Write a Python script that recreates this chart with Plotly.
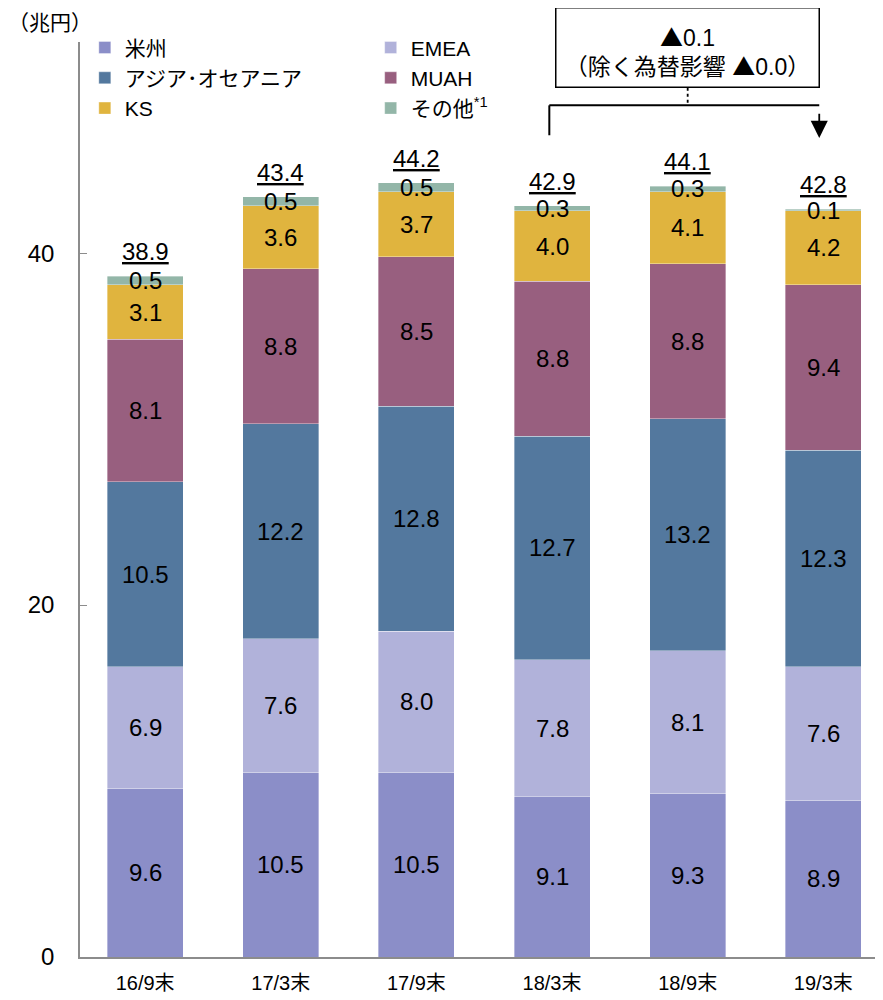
import plotly.graph_objects as go

categories = ["16/9末", "17/3末", "17/9末", "18/3末", "18/9末", "19/3末"]
series_names = ["米州", "EMEA", "アジア･オセアニア", "MUAH", "KS", "その他<sup>*1</sup>"]
americas = [9.6, 10.5, 10.5, 9.1, 9.3, 8.9]
emea = [6.9, 7.6, 8.0, 7.8, 8.1, 7.6]
asia = [10.5, 12.2, 12.8, 12.7, 13.2, 12.3]
muah = [8.1, 8.8, 8.5, 8.8, 8.8, 9.4]
ks = [3.1, 3.6, 3.7, 4.0, 4.1, 4.2]
other = [0.5, 0.5, 0.5, 0.3, 0.3, 0.1]
totals = ["38.9", "43.4", "44.2", "42.9", "44.1", "42.8"]
colors = ["#8B8EC8", "#B1B2DA", "#53789E", "#985F7F", "#E0B43E", "#93B6A8"]
legend_ids = ["legend", "legend2", "legend", "legend2", "legend", "legend2"]

FONT = "Liberation Sans, Arial, Noto Sans CJK JP, sans-serif"
series = [americas, emea, asia, muah, ks, other]
x = list(range(len(categories)))

fig = go.Figure()
annotations = []
base = [0.0] * len(categories)
for name, vals, col, lg in zip(series_names, series, colors, legend_ids):
    fig.add_trace(go.Bar(
        x=x, y=vals, name=name, legend=lg,
        marker=dict(color=col, line=dict(color="rgba(255,255,255,0.6)", width=0.6)),
        width=0.56,
    ))
    for i, v in enumerate(vals):
        annotations.append(dict(
            x=i, y=base[i] + v / 2, xref="x", yref="y", text=f"{v:.1f}",
            showarrow=False, font=dict(size=24, color="black", family=FONT),
        ))
        base[i] += v

for i, t in enumerate(totals):
    annotations.append(dict(
        x=i, y=base[i], xref="x", yref="y", text=f"<u>{t}</u>", yanchor="bottom",
        yshift=9, showarrow=False, font=dict(size=24, color="black", family=FONT),
    ))

# unit label
annotations.append(dict(
    x=0.0, y=1.0, xref="paper", yref="paper", xanchor="left", yanchor="middle",
    xshift=-74, yshift=20, text="（兆円）", showarrow=False,
    font=dict(size=21, color="black", family=FONT),
))

TRI = '<span style="font-family:Noto Sans CJK JP">▲</span>'
# change box
annotations.append(dict(
    x=4, y=49.4, xref="x", yref="y", yanchor="bottom", xanchor="center",
    text=f"{TRI}0.1<br>（除く為替影響 {TRI}0.0）", showarrow=False,
    bordercolor="black", borderwidth=1.5, borderpad=4, width=254, height=70,
    valign="bottom",
    bgcolor="white", font=dict(size=23, color="black", family=FONT),
))
# arrow on right end
annotations.append(dict(
    x=4.97, y=46.55, xref="x", yref="y", axref="x", ayref="y", ax=4.97, ay=48.4,
    text=" ", showarrow=True, arrowhead=2, arrowsize=1.9, arrowwidth=1.8,
    arrowcolor="black", standoff=0,
))

shapes = [
    dict(type="line", xref="x", yref="y", x0=4, x1=4, y0=49.4, y1=48.4,
         line=dict(color="black", width=1.8, dash="dot")),
    dict(type="line", xref="x", yref="y", x0=2.98, x1=4.97, y0=48.4, y1=48.4,
         line=dict(color="black", width=2)),
    dict(type="line", xref="x", yref="y", x0=2.98, x1=2.98, y0=48.4, y1=46.7,
         line=dict(color="black", width=2)),
]

legend_common = dict(
    orientation="v", xanchor="left", yanchor="top", bgcolor="rgba(0,0,0,0)",
    font=dict(size=21, color="black", family=FONT), traceorder="normal",
    itemclick=False, itemdoubleclick=False,
)

fig.update_layout(
    width=875, height=992,
    margin=dict(l=72, r=0, t=34, b=43),
    barmode="stack",
    plot_bgcolor="white", paper_bgcolor="white",
    font=dict(family=FONT, color="black"),
    showlegend=True,
    legend=dict(x=0.006, y=1.016, **legend_common),
    legend2=dict(x=0.362, y=1.016, **legend_common),
    xaxis=dict(
        range=[-0.48, 5.44], tickvals=x, ticktext=categories,
        showline=True, linecolor="#8C8C8C", linewidth=1.5, ticks="",
        showgrid=False, zeroline=False, tickfont=dict(size=20, family=FONT),
        ticklabelstandoff=7,
    ),
    yaxis=dict(
        range=[0, 52], tickvals=[0, 20, 40], showline=True, linecolor="#8C8C8C",
        linewidth=1.5, ticks="inside", ticklen=7, tickcolor="#8C8C8C",
        showgrid=False, zeroline=False, tickfont=dict(size=24, family=FONT),
        ticklabelstandoff=19,
    ),
    annotations=annotations,
    shapes=shapes,
)

fig.write_html("out.html")
